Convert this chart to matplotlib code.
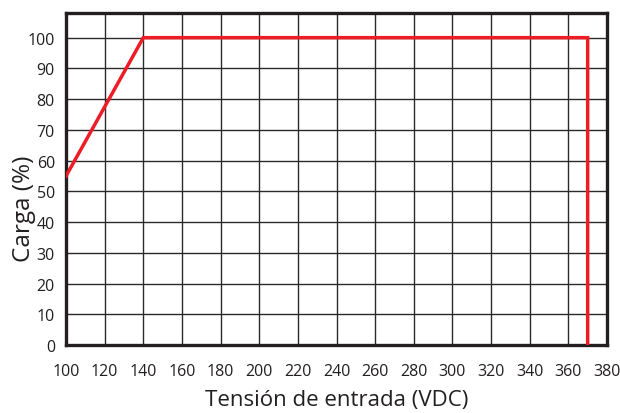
import matplotlib
matplotlib.use("Agg")
import matplotlib.pyplot as plt

matplotlib.rcParams.update({'font.family': ['Open Sans', 'DejaVu Sans']})

# derating curve: input voltage vs load
voltage = [100, 140, 370, 370]
load = [55, 100, 100, 0]

xticks = list(range(100, 381, 20))
yticks = list(range(0, 101, 10))

fig = plt.figure(figsize=(6.2, 4.14), dpi=100)
ax = fig.add_axes([0.1065, 0.164, 0.8725, 0.802])

ax.set_xlim(100, 380)
ax.set_ylim(0, 108)
ax.set_xticks(xticks)
ax.set_yticks(yticks)
ax.grid(True, color='#2a2a2a', linewidth=1.0)
ax.set_axisbelow(True)

ax.plot(voltage, load, color='#ee1c25', linewidth=2.5, solid_joinstyle='miter', zorder=3)

for s in ax.spines.values():
    s.set_linewidth(2.4)
    s.set_color('#231f20')

ax.tick_params(length=0, labelsize=11.5, labelcolor='#231f20')
ax.tick_params(axis='x', pad=13)
ax.tick_params(axis='y', pad=8)
ax.set_xlabel('Tensión de entrada (VDC)', fontsize=16, color='#231f20', labelpad=7)
ax.set_ylabel('Carga (%)', fontsize=17.5, color='#231f20')
ax.yaxis.set_label_coords(-0.055, 0.413)

fig.savefig('out.png', dpi=100)
